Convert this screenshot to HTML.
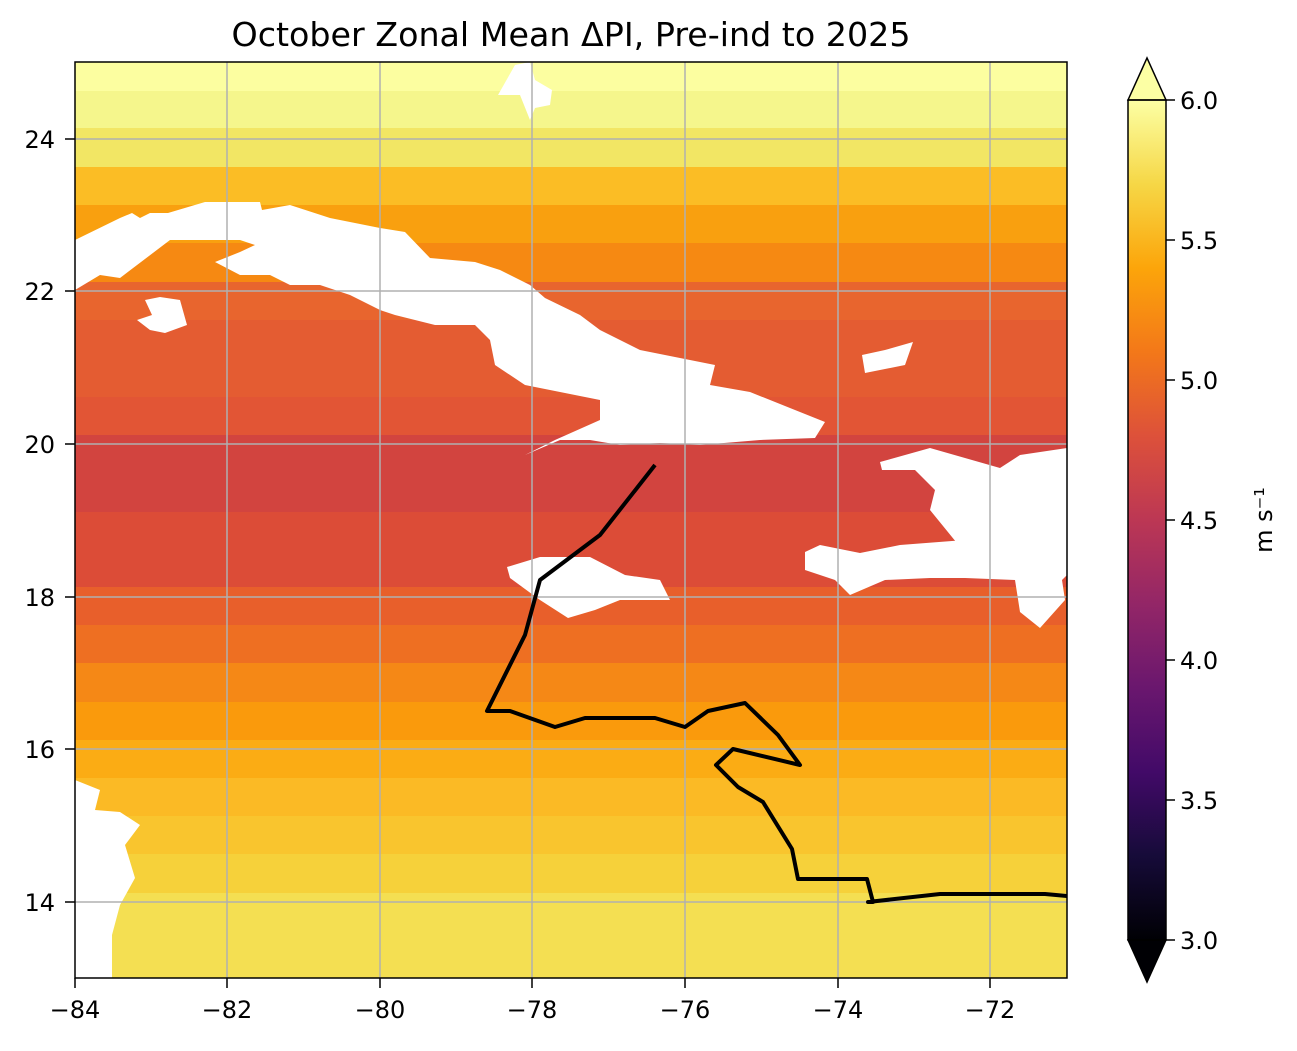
<!DOCTYPE html>
<html><head><meta charset="utf-8"><style>
body{margin:0;background:#fff;}
svg text{font-family:"DejaVu Sans","Liberation Sans",sans-serif;}
</style></head><body>
<svg width="1297" height="1046" viewBox="0 0 1297 1046" xmlns="http://www.w3.org/2000/svg">
<defs>
<linearGradient id="inf" x1="0" y1="1" x2="0" y2="0">
<stop offset="0" stop-color="#000004"/><stop offset="0.1" stop-color="#160b39"/><stop offset="0.2" stop-color="#420a68"/><stop offset="0.3" stop-color="#6a176e"/><stop offset="0.4" stop-color="#932667"/><stop offset="0.5" stop-color="#bc3754"/><stop offset="0.6" stop-color="#dd513a"/><stop offset="0.7" stop-color="#f37819"/><stop offset="0.8" stop-color="#fca50a"/><stop offset="0.9" stop-color="#f6d746"/><stop offset="1" stop-color="#fcffa4"/>
</linearGradient>
<clipPath id="c"><rect x="75" y="62" width="992" height="916"/></clipPath>
</defs>
<text x="571" y="46" font-size="33" text-anchor="middle" textLength="679" lengthAdjust="spacingAndGlyphs">October Zonal Mean ΔPI, Pre-ind to 2025</text>
<g clip-path="url(#c)">
<rect x="75" y="62" width="992" height="30" fill="#fcfea0"/>
<rect x="75" y="91" width="992" height="38" fill="#f5f68c"/>
<rect x="75" y="128" width="992" height="40" fill="#f2e664"/>
<rect x="75" y="167" width="992" height="39" fill="#fbbd25"/>
<rect x="75" y="205" width="992" height="39" fill="#f9a00f"/>
<rect x="75" y="243" width="992" height="40" fill="#f68912"/>
<rect x="75" y="282" width="992" height="39" fill="#e8652e"/>
<rect x="75" y="320" width="992" height="116" fill="#e45c32"/>
<rect x="75" y="397" width="992" height="39" fill="#e25535"/>
<rect x="75" y="435" width="992" height="78" fill="#d2443f"/>
<rect x="75" y="512" width="992" height="76" fill="#dc4c37"/>
<rect x="75" y="587" width="992" height="39" fill="#e85f2b"/>
<rect x="75" y="625" width="992" height="39" fill="#ee6f22"/>
<rect x="75" y="663" width="992" height="40" fill="#f58816"/>
<rect x="75" y="702" width="992" height="39" fill="#fa9a0c"/>
<rect x="75" y="740" width="992" height="39" fill="#fbac14"/>
<rect x="75" y="778" width="992" height="39" fill="#fbba25"/>
<rect x="75" y="816" width="992" height="39" fill="#f9c52e"/>
<rect x="75" y="854" width="992" height="40" fill="#f6d13a"/>
<rect x="75" y="893" width="992" height="86" fill="#f4df52"/>
<g fill="#fff">
<polygon points="75,240 120,218 132,213 140,218 150,213 168,213 205,202 260,202 262,210 290,205 330,218 380,228 405,232 430,258 475,262 500,270 530,285 545,298 580,315 600,330 640,350 690,360 715,365 710,385 750,392 790,408 825,422 815,438 760,440 700,445 660,443 620,445 590,440 560,440 525,455 555,440 600,420 600,400 560,392 525,385 495,365 490,340 475,325 435,325 395,315 380,310 350,295 320,285 290,285 270,275 240,275 215,262 240,252 255,245 240,240 170,240 120,278 100,275 75,290"/>
<polygon points="145,300 160,297 180,300 187,325 165,333 150,330 137,320 152,315"/>
<polygon points="507,567 540,557 590,557 625,575 660,580 670,600 620,600 595,610 568,618 540,600 510,578"/>
<polygon points="880,462 930,448 1000,468 1020,455 1067,448 1067,575 1062,580 1065,600 1040,628 1020,612 1015,580 965,578 930,578 885,580 850,595 835,580 805,570 805,552 820,545 860,553 900,545 965,540 965,553 930,510 935,490 915,470 882,470"/>
<polygon points="498,95 515,65 530,62 535,80 552,90 550,105 535,108 530,120 520,95"/>
<polygon points="862,355 885,350 913,342 905,365 865,373"/>
<polygon points="75,780 100,790 95,810 120,812 140,825 125,845 135,878 120,905 112,935 112,978 75,978"/>
</g>
<g stroke="#b0b0b0" stroke-width="1.5">
<line x1="227" y1="62" x2="227" y2="978"/><line x1="380" y1="62" x2="380" y2="978"/><line x1="532" y1="62" x2="532" y2="978"/><line x1="685" y1="62" x2="685" y2="978"/><line x1="838" y1="62" x2="838" y2="978"/><line x1="990" y1="62" x2="990" y2="978"/>
<line x1="75" y1="139" x2="1067" y2="139"/><line x1="75" y1="291" x2="1067" y2="291"/><line x1="75" y1="444" x2="1067" y2="444"/><line x1="75" y1="597" x2="1067" y2="597"/><line x1="75" y1="749" x2="1067" y2="749"/><line x1="75" y1="902" x2="1067" y2="902"/>
</g>
<polyline fill="none" stroke="#000" stroke-width="4" stroke-linejoin="round" points="655,465 600,535 540,580 525,635 487,711 510,711 555,727 585,718 655,718 685,727 708,711 745,703 778,735 800,765 733,749 716,765 738,787 763,802 792,849 798,879 867,879 873,902 868,902 940,894 1045,894 1067,896"/>
</g>
<rect x="75" y="62" width="992" height="916" fill="none" stroke="#000" stroke-width="1.5"/>
<g stroke="#000" stroke-width="1.5">
<line x1="227" y1="978" x2="227" y2="988"/><line x1="380" y1="978" x2="380" y2="988"/><line x1="532" y1="978" x2="532" y2="988"/><line x1="685" y1="978" x2="685" y2="988"/><line x1="838" y1="978" x2="838" y2="988"/><line x1="990" y1="978" x2="990" y2="988"/><line x1="75" y1="978" x2="75" y2="988"/>
<line x1="65" y1="139" x2="75" y2="139"/><line x1="65" y1="291" x2="75" y2="291"/><line x1="65" y1="444" x2="75" y2="444"/><line x1="65" y1="597" x2="75" y2="597"/><line x1="65" y1="749" x2="75" y2="749"/><line x1="65" y1="902" x2="75" y2="902"/>
</g>
<g font-size="24" text-anchor="middle">
<text x="75" y="1018">−84</text><text x="227" y="1018">−82</text><text x="380" y="1018">−80</text><text x="532" y="1018">−78</text><text x="685" y="1018">−76</text><text x="838" y="1018">−74</text><text x="990" y="1018">−72</text>
</g>
<g font-size="24" text-anchor="end">
<text x="55" y="911">14</text><text x="55" y="148">24</text><text x="55" y="300">22</text><text x="55" y="453">20</text><text x="55" y="606">18</text><text x="55" y="758">16</text>
</g>
<rect x="1128" y="100" width="38" height="840" fill="url(#inf)"/>
<polygon points="1128,100 1147,58 1166,100" fill="#fcffa4" stroke="#000" stroke-width="1.5"/>
<polygon points="1128,940 1147,982 1166,940" fill="#000004" stroke="#000" stroke-width="1.5"/>
<rect x="1128" y="100" width="38" height="840" fill="none" stroke="#000" stroke-width="1.5"/>
<g stroke="#000" stroke-width="1.5">
<line x1="1166" y1="100" x2="1175" y2="100"/><line x1="1166" y1="240" x2="1175" y2="240"/><line x1="1166" y1="380" x2="1175" y2="380"/><line x1="1166" y1="520" x2="1175" y2="520"/><line x1="1166" y1="660" x2="1175" y2="660"/><line x1="1166" y1="800" x2="1175" y2="800"/><line x1="1166" y1="940" x2="1175" y2="940"/>
</g>
<g font-size="24">
<text x="1180" y="109">6.0</text><text x="1180" y="249">5.5</text><text x="1180" y="389">5.0</text><text x="1180" y="529">4.5</text><text x="1180" y="669">4.0</text><text x="1180" y="809">3.5</text><text x="1180" y="949">3.0</text>
</g>
<text x="1272" y="520" font-size="24" text-anchor="middle" transform="rotate(-90 1272 520)">m s⁻¹</text>
</svg>
</body></html>
